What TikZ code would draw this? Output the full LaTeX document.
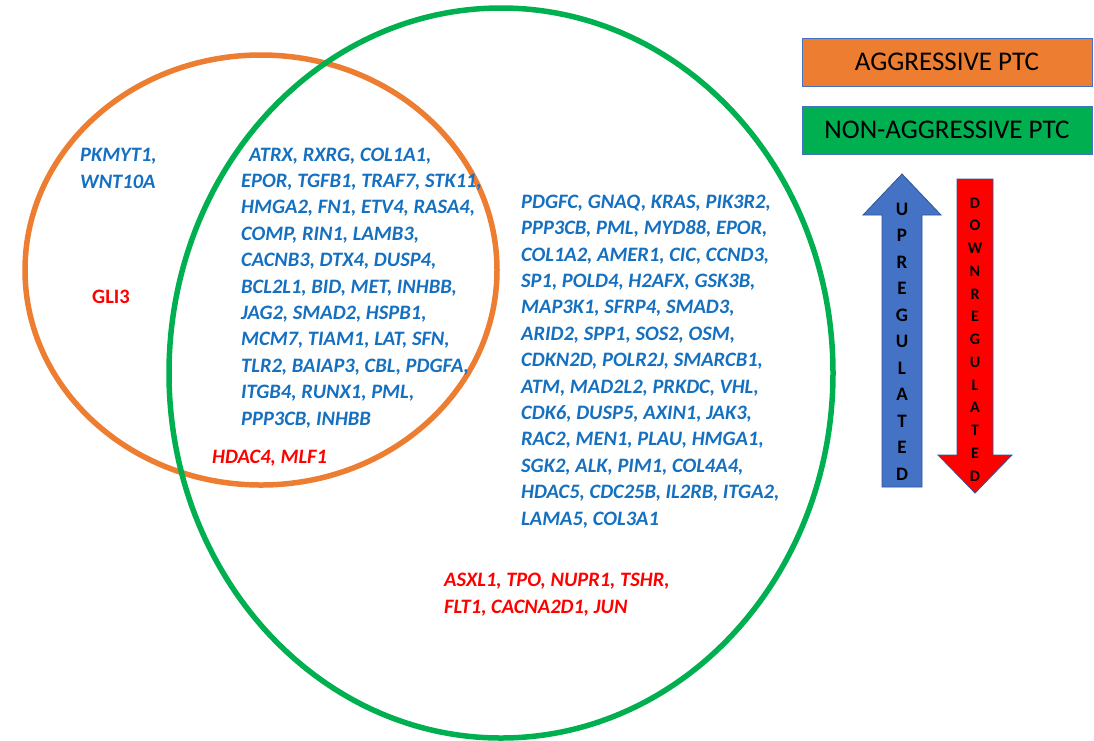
\documentclass[tikz,border=0pt]{standalone}
\usepackage{fontspec}
\setmainfont{Carlito}
\usepackage{xcolor}
\usepackage{tikz}

\definecolor{aggorange}{HTML}{ED7D31}
\definecolor{nonaggreen}{HTML}{00B050}
\definecolor{geneblue}{HTML}{1570C0}
\definecolor{upblue}{HTML}{4472C4}
\definecolor{rimblue}{HTML}{2F5597}

\begin{document}
\begin{tikzpicture}[
  x=1pt, y=-1pt,
  gene/.style={font=\fontsize{20.5}{26.4}\selectfont\bfseries\itshape, text=geneblue, align=left, anchor=base west, inner sep=0pt},
  down/.style={gene, text=red},
  legend/.style={draw=upblue, line width=1pt, minimum width=290pt, minimum height=48pt, font=\fontsize{27}{30}\selectfont},
  letters/.style={font=\bfseries, align=center, inner sep=0pt, anchor=base}
]
  \useasboundingbox (0,0) rectangle (1094,740);

  % the two sets
  \draw[aggorange, line width=5.5pt] (261,270) ellipse [x radius=236, y radius=215];
  \draw[nonaggreen, line width=5.5pt] (501,373) ellipse [x radius=332, y radius=365];

  % aggressive only (multi-line nodes sit on their last line)
  \node[gene] (aggup) at (80,188) {PKMYT1,\\WNT10A};
  \node[down, font=\fontsize{20.5}{26.4}\selectfont\bfseries] (aggdown) at (92,303) {GLI3};

  % both
  \node[gene] (bothup) at (241,425) {\hspace*{8pt}ATRX, RXRG, COL1A1,\\
    EPOR, TGFB1, TRAF7, STK11,\\
    HMGA2, FN1, ETV4, RASA4,\\
    COMP, RIN1, LAMB3,\\
    CACNB3, DTX4, DUSP4,\\
    BCL2L1, BID, MET, INHBB,\\
    JAG2, SMAD2, HSPB1,\\
    MCM7, TIAM1, LAT, SFN,\\
    TLR2, BAIAP3, CBL, PDGFA,\\
    ITGB4, RUNX1, PML,\\
    PPP3CB, INHBB};
  \node[down] (bothdown) at (212,463) {HDAC4, MLF1};

  % non-aggressive only
  \node[gene] (nonup) at (521,525) {PDGFC, GNAQ, KRAS, PIK3R2,\\
    PPP3CB, PML, MYD88, EPOR,\\
    COL1A2, AMER1, CIC, CCND3,\\
    SP1, POLD4, H2AFX, GSK3B,\\
    MAP3K1, SFRP4, SMAD3,\\
    ARID2, SPP1, SOS2, OSM,\\
    CDKN2D, POLR2J, SMARCB1,\\
    ATM, MAD2L2, PRKDC, VHL,\\
    CDK6, DUSP5, AXIN1, JAK3,\\
    RAC2, MEN1, PLAU, HMGA1,\\
    SGK2, ALK, PIM1, COL4A4,\\
    HDAC5, CDC25B, IL2RB, ITGA2,\\
    LAMA5, COL3A1};
  \node[down] (nondown) at (444,613) {ASXL1, TPO, NUPR1, TSHR,\\FLT1, CACNA2D1, JUN};

  % legend
  \node[legend, fill=aggorange] (aggbox) at (947,62) {AGGRESSIVE PTC};
  \node[legend, fill=nonaggreen] (nonbox) at (947,130) {NON-AGGRESSIVE PTC};

  % up and down arrows
  \draw[draw=rimblue, fill=upblue, line width=0.8pt]
    (882,487) -- (882,215) -- (863,215) -- (902,174) -- (941,215) -- (922,215) -- (922,487) -- cycle;
  \draw[draw=rimblue, fill=red, line width=0.8pt]
    (957,179) -- (993,179) -- (993,455) -- (1012,455) -- (975,493) -- (938,455) -- (957,455) -- cycle;
  \node[letters, font=\fontsize{19}{26.5}\selectfont\bfseries] (uplabel) at (902,480)
    {U\\P\\R\\E\\G\\U\\L\\A\\T\\E\\D};
  \node[letters, font=\fontsize{16}{22.75}\selectfont\bfseries] (downlabel) at (975,481)
    {D\\O\\W\\N\\R\\E\\G\\U\\L\\A\\T\\E\\D};
\end{tikzpicture}
\end{document}
